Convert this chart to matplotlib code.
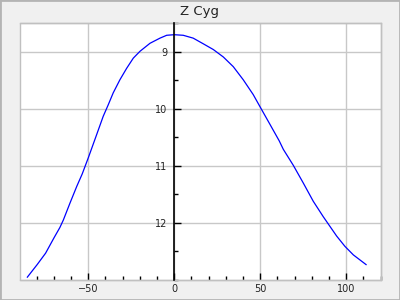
import matplotlib
matplotlib.use("Agg")
import matplotlib.pyplot as plt
from matplotlib.patches import Rectangle
from matplotlib.ticker import MultipleLocator

title = "Z Cyg"
phase = [-85.4, -79.7, -74.8, -69.9, -66.5, -64.5, -60.6, -56.7, -53.5, -50.0, -45.1, -41.3,
         -38.4, -35.5, -31.6, -27.7, -23.8, -19.9, -14.1, -8.3, -4.4, 0.0, 5.2, 11.0, 16.9,
         22.7, 28.5, 34.3, 40.1, 45.9, 49.8, 55.6, 61.0, 63.4, 69.2, 75.0, 80.8, 86.6, 90.5,
         94.4, 99.2, 104.1, 111.5]
mag = [12.95, 12.73, 12.53, 12.26, 12.08, 11.95, 11.65, 11.36, 11.14, 10.86, 10.45, 10.13,
       9.93, 9.72, 9.49, 9.29, 9.11, 8.99, 8.85, 8.76, 8.71, 8.70, 8.71, 8.76, 8.86,
       8.96, 9.09, 9.26, 9.49, 9.75, 9.96, 10.27, 10.56, 10.71, 10.99, 11.30, 11.62, 11.89, 12.06,
       12.23, 12.41, 12.56, 12.73]
xticks = [-50, 0, 50, 100]
yticks = [9, 10, 11, 12]

plt.rcParams['font.family'] = ['DejaVu Sans']
fig = plt.figure(figsize=(4, 3), dpi=100, facecolor='#f0f0f0')
ax = fig.add_axes([20.3/400, 1-280/300, (380.7-20.3)/400, (280-23.3)/300])
ax.set_facecolor('white')

ax.plot(phase, mag, color='#0000ff', lw=0.9, zorder=3)
ax.set_xlim(-89.5, 120)
ax.set_ylim(13.0, 8.5)

ax.set_xticks(xticks)
ax.set_yticks(yticks)
ax.xaxis.set_minor_locator(MultipleLocator(10))
ax.yaxis.set_minor_locator(MultipleLocator(0.5))
ax.grid(True, which='major', color='#c8c8c8', lw=1, zorder=0)

for s in ['top', 'right', 'bottom']:
    ax.spines[s].set_color('#c0c0c0')
    ax.spines[s].set_linewidth(1)
ax.spines['left'].set_position(('data', 0))
ax.spines['left'].set_color('black')
ax.spines['left'].set_linewidth(1.2)
ax.spines['left'].set_zorder(4)
ax.add_patch(Rectangle((0, 0), 1, 1, transform=ax.transAxes, fill=False,
                       edgecolor='#c0c0c0', lw=1, clip_on=False, zorder=2))

ax.tick_params(axis='y', which='both', direction='in', color='black', labelcolor='#222222',
               labelsize=7, pad=5)
ax.tick_params(axis='y', which='major', length=5, width=1)
ax.tick_params(axis='y', which='minor', length=3, width=1)
ax.tick_params(axis='x', which='both', direction='in', color='black', labelcolor='#222222',
               labelsize=7, pad=3)
ax.tick_params(axis='x', which='major', length=5, width=1)
ax.tick_params(axis='x', which='minor', length=3, width=1)

fig.text(0.5, 1-11.5/300, title, ha='center', va='center', fontsize=9.5, color='#222222')
fig.patches.append(Rectangle((0, 0), 1, 1, transform=fig.transFigure, fill=False,
                             edgecolor='#b4b4b4', lw=2, figure=fig))

fig.savefig('out.png', dpi=100, facecolor=fig.get_facecolor())
